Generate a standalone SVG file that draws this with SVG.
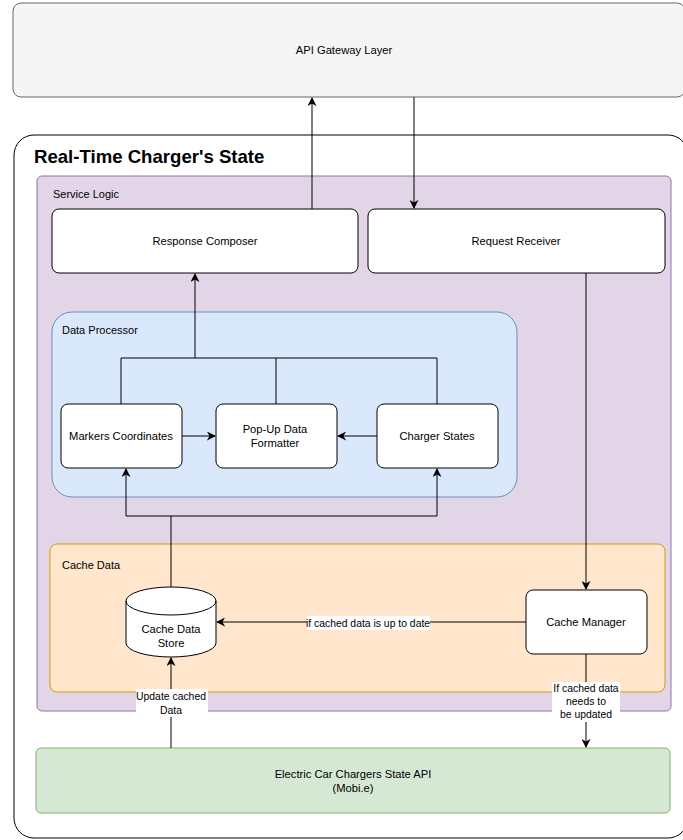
<svg xmlns="http://www.w3.org/2000/svg" width="683" height="840" viewBox="0 0 683 840">
<style>
text{font-family:"Liberation Sans",Arial,Helvetica,sans-serif;fill:#000}
.n{font-size:11.2px;text-anchor:middle}
.c{font-size:11px}
.e{font-size:10.4px;text-anchor:middle}
.box{fill:#fff;stroke:#000;stroke-width:1}
.ln{fill:none;stroke:#000;stroke-width:1}
.lbg{fill:#fff}
</style>
<defs>
<marker id="ar" viewBox="0 0 10 10" refX="9" refY="5" markerWidth="9" markerHeight="9" orient="auto" markerUnits="userSpaceOnUse">
<path d="M0,0 L10,5 L0,10 L3,5 Z" fill="#000"/>
</marker>
</defs>
<g id="api-gateway">
<rect x="13" y="3" width="672" height="94" rx="8" fill="#f5f5f5" stroke="#666"/>
<text class="n" x="344" y="54">API Gateway Layer</text>
</g>
<g id="realtime-container">
<rect x="14" y="135" width="674" height="703" rx="20" fill="#fff" stroke="#000"/>
<text x="34" y="163" font-size="18.6" font-weight="bold">Real-Time Charger's State</text>
</g>
<g id="service-logic">
<rect x="37" y="176" width="634" height="535" rx="5" fill="#e1d5e7" stroke="#9673a6"/>
<text class="c" x="53" y="198">Service Logic</text>
</g>
<g id="response-composer">
<rect class="box" x="52" y="209" width="306" height="64" rx="7"/>
<text class="n" x="205" y="245">Response Composer</text>
</g>
<g id="request-receiver">
<rect class="box" x="368" y="209" width="297" height="64" rx="7"/>
<text class="n" x="516" y="245">Request Receiver</text>
</g>
<g id="data-processor">
<rect x="52" y="312" width="465" height="185" rx="20" fill="#dae8fc" stroke="#6c8ebf"/>
<text class="c" x="62" y="334">Data Processor</text>
</g>
<g id="markers-coordinates">
<rect class="box" x="61" y="404" width="121" height="64" rx="7"/>
<text class="n" x="121" y="440">Markers Coordinates</text>
</g>
<g id="popup-formatter">
<rect class="box" x="216" y="404" width="121" height="64" rx="7"/>
<text class="n" x="275" y="433">Pop-Up Data</text>
<text class="n" x="275" y="447">Formatter</text>
</g>
<g id="charger-states">
<rect class="box" x="377" y="404" width="121" height="64" rx="7"/>
<text class="n" x="437" y="440">Charger States</text>
</g>
<g id="cache-data">
<rect x="50" y="544" width="615" height="148" rx="7" fill="#ffe6cc" stroke="#d79b00"/>
<text class="c" x="62" y="569">Cache Data</text>
</g>
<g id="cache-store">
<path d="M126,601 A45,14 0 0 1 216,601 L216,643 A45,14 0 0 1 126,643 Z" fill="#fff" stroke="#000"/>
<path d="M126,601 A45,14 0 0 0 216,601" fill="none" stroke="#000"/>
<text class="n" x="171" y="633">Cache Data</text>
<text class="n" x="171" y="647">Store</text>
</g>
<g id="cache-manager">
<rect class="box" x="526" y="590" width="121" height="64" rx="7"/>
<text class="n" x="586" y="626">Cache Manager</text>
</g>
<g id="chargers-api">
<rect x="36" y="748" width="634" height="65" rx="5" fill="#d5e8d4" stroke="#82b366"/>
<text class="n" x="353" y="778">Electric Car Chargers State API</text>
<text class="n" x="353" y="792">(Mobi.e)</text>
</g>
<g id="connectors">
<path class="ln" d="M312,209 V98" marker-end="url(#ar)"/>
<path class="ln" d="M414,97 V208" marker-end="url(#ar)"/>
<path class="ln" d="M586,273 V589" marker-end="url(#ar)"/>
<path class="ln" d="M121,404 V358 H437 V404 M276,358 V404"/>
<path class="ln" d="M195,358 V274" marker-end="url(#ar)"/>
<path class="ln" d="M182,436 H215" marker-end="url(#ar)"/>
<path class="ln" d="M377,436 H338" marker-end="url(#ar)"/>
<path class="ln" d="M171,587 V516 H126 V469" marker-end="url(#ar)"/>
<path class="ln" d="M171,516 H437 V469" marker-end="url(#ar)"/>
<path class="ln" d="M526,622 H217" marker-end="url(#ar)"/>
<path class="ln" d="M171,748 V658" marker-end="url(#ar)"/>
<path class="ln" d="M586,654 V747" marker-end="url(#ar)"/>
<rect class="lbg" x="307" y="616" width="123" height="14"/>
<text class="e" x="368" y="627">if cached data is up to date</text>
<rect class="lbg" x="136" y="689" width="72" height="28"/>
<text class="e" x="171" y="700">Update cached</text>
<text class="e" x="171" y="714">Data</text>
<rect class="lbg" x="552" y="682" width="68" height="40"/>
<text class="e" x="586" y="692">If cached data</text>
<text class="e" x="586" y="705">needs to</text>
<text class="e" x="586" y="718">be updated</text>
</g>
</svg>
